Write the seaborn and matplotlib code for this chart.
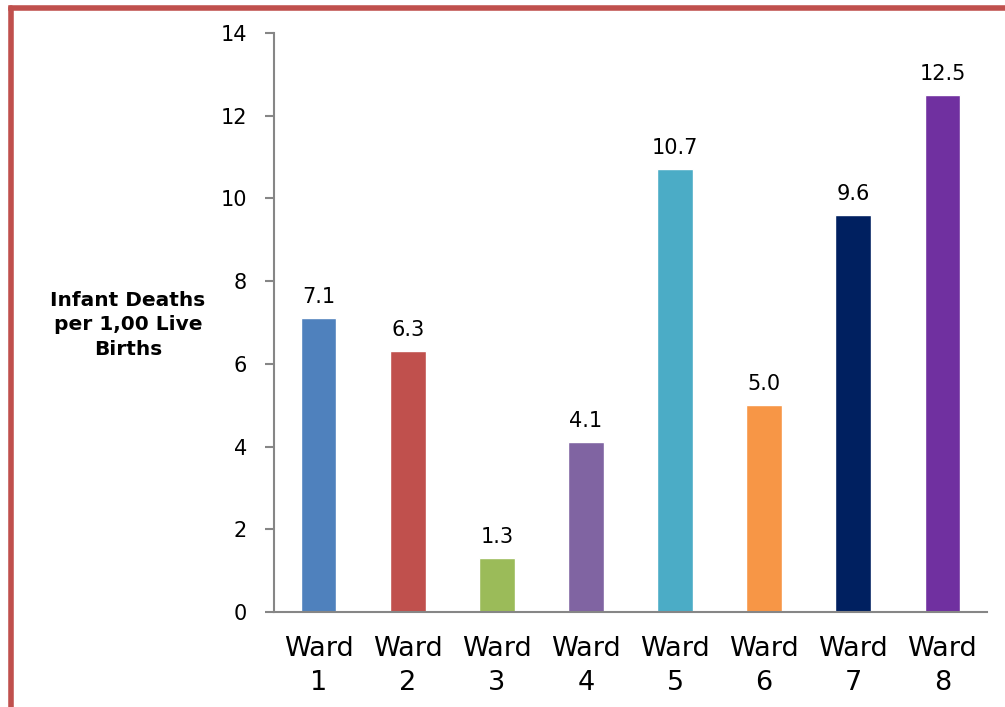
import matplotlib
matplotlib.use("Agg")
import matplotlib.pyplot as plt
import seaborn as sns
import pandas as pd
import numpy as np
from matplotlib.lines import Line2D

# data
wards = ["Ward\n1", "Ward\n2", "Ward\n3", "Ward\n4", "Ward\n5", "Ward\n6", "Ward\n7", "Ward\n8"]
deaths = [7.1, 6.3, 1.3, 4.1, 10.7, 5.0, 9.6, 12.5]
colors = ["#4F81BD", "#C0504D", "#9BBB59", "#8064A2", "#4BACC6", "#F79646", "#002060", "#7030A0"]

sns.set_style("white")
plt.rcParams["font.family"] = ["DejaVu Sans"]
plt.rcParams["text.color"] = "black"

df = pd.DataFrame({"ward": wards, "deaths": deaths})

fig = plt.figure(figsize=(10.05, 7.07), dpi=100)
ax = fig.add_axes([274/1005, 1-612/707, (987-274)/1005, (612-33)/707])

sns.barplot(data=df, x="ward", y="deaths", hue="ward", palette=colors,
            width=0.4, legend=False, saturation=1, ax=ax)

for c in ax.containers:
    ax.bar_label(c, fmt="%.1f", padding=8, fontsize=15, color="black")

ax.set_xlim(-0.5, 7.5)
ax.set_ylim(0, 14)
ax.set_yticks(np.arange(0, 15, 2))
ax.set_xlabel("")
ax.set_ylabel("")

for s in ["top", "right"]:
    ax.spines[s].set_visible(False)
for s in ["left", "bottom"]:
    ax.spines[s].set_color("#868686")
    ax.spines[s].set_linewidth(1.5)

# tick marks sit between categories, labels at the centres
ax.set_xticks(np.arange(-0.5, 8, 1), minor=True)
ax.tick_params(axis="x", which="major", length=0, pad=17, labelsize=19.5, labelcolor="black")
ax.tick_params(axis="x", which="minor", length=7, width=1.5, color="#868686", direction="out")
ax.tick_params(axis="y", length=6.5, width=1.5, color="#868686", pad=13, labelsize=15,
               labelcolor="black", direction="out", left=True)
for lab in ax.get_xticklabels():
    lab.set_linespacing(1.4)

fig.text(128/1005, 1-325/707, "Infant Deaths\nper 1,00 Live\nBirths", ha="center", va="center",
         fontsize=14.5, fontweight="bold", linespacing=1.35, color="black")

# red frame (left and top edges visible)
fig.add_artist(Line2D([11/1005, 11/1005], [0, 1-8/707], color="#C0504D", lw=4, transform=fig.transFigure))
fig.add_artist(Line2D([11/1005, 1], [1-8/707, 1-8/707], color="#C0504D", lw=4, transform=fig.transFigure,
                      solid_capstyle="projecting"))

fig.savefig("out.png", dpi=100)
